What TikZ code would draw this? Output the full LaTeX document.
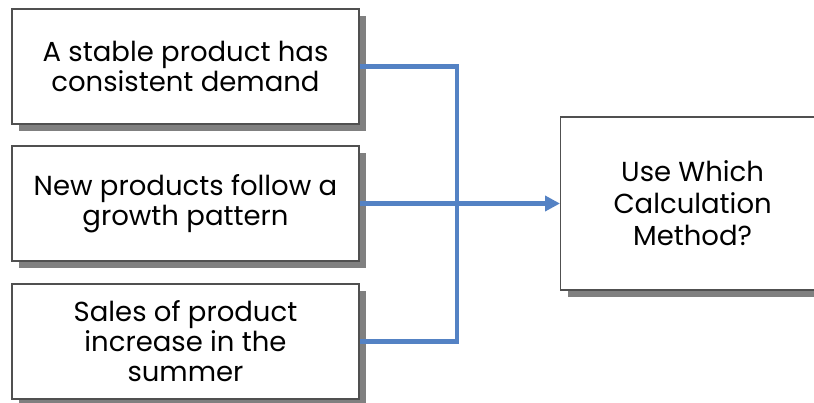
\documentclass[tikz,border=0pt]{standalone}
\usepackage{fontspec}
\setmainfont{Poppins}
\usetikzlibrary{shadows,arrows.meta}
\definecolor{conn}{RGB}{84,130,196}
\definecolor{shad}{RGB}{128,128,128}
\definecolor{edge}{RGB}{80,80,80}
\tikzset{
  box/.style={draw=edge, line width=1.2pt, fill=white, align=center,
    font=\fontsize{27.5}{30}\selectfont, inner sep=0pt,
    drop shadow={shadow xshift=7pt, shadow yshift=-7pt, fill=shad, opacity=1}},
  link/.style={draw=conn, line width=4.8pt},
}
\begin{document}
\begin{tikzpicture}[x=1pt,y=-1pt]
\useasboundingbox (0,0) rectangle (814,402);
\clip (0,0) rectangle (814,402);
\node[box, minimum width=347pt, minimum height=115pt] (b1) at (185.5,66.5) {A stable product has\\consistent demand};
\node[box, minimum width=347pt, minimum height=115pt] (b2) at (185.5,203.5) {New products follow a\\growth pattern};
\node[box, minimum width=347pt, minimum height=115pt] (b3) at (185.5,341.5) {Sales of product\\increase in the\\summer};
\node[box, anchor=west, minimum height=173pt, font=\fontsize{27.5}{32}\selectfont] (b4) at (560,203.5)
  {\makebox[330pt][l]{\parbox{264pt}{\centering Use Which\\Calculation\\Method?}}};
\coordinate (j) at (457,203.5);
\draw[link] (b1.east) -| (j);
\draw[link] (b3.east) -| (j);
\draw[link, -{Triangle[length=15pt,width=15pt]}] (b2.east) -- (b4.west);
\end{tikzpicture}
\end{document}
